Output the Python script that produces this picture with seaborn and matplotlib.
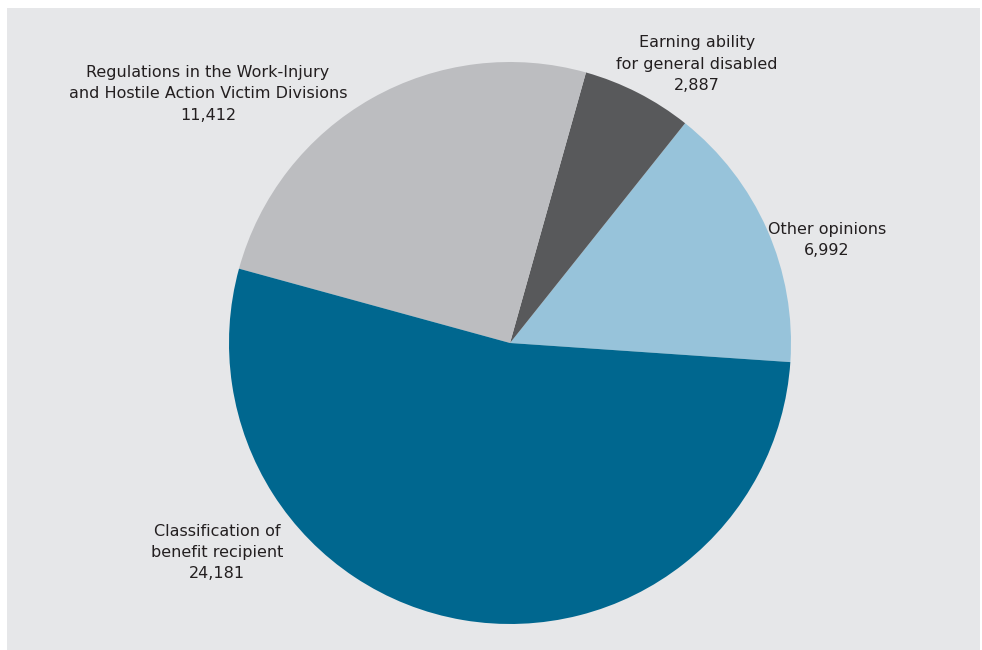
import matplotlib
matplotlib.use("Agg")
import matplotlib.pyplot as plt
import seaborn as sns
from matplotlib.patches import Rectangle

sns.set_theme(style="white")
plt.rcParams['font.family'] = ['DejaVu Sans']

categories = ["Other opinions", "Earning ability\nfor general disabled",
              "Regulations in the Work-Injury\nand Hostile Action Victim Divisions",
              "Classification of\nbenefit recipient"]
values = [6992, 2887, 11412, 24181]
colors = ["#97c3da", "#58595b", "#bcbdc0", "#00678f"]
label_pos = [(827, 240), (697, 64), (208, 94), (217, 553)]

W, H = 982, 650
fig = plt.figure(figsize=(W / 100, H / 100), dpi=100, facecolor="white")
ax = fig.add_axes([0, 0, 1, 1])
ax.set_xlim(0, W)
ax.set_ylim(0, H)
ax.set_aspect("equal")
ax.axis("off")
ax.add_patch(Rectangle((7, 0), W - 9, H - 8, facecolor="#e6e7e9", edgecolor="none", zorder=0))

ax.pie(values, colors=colors, startangle=-3.9, counterclock=True,
       center=(510, H - 343), radius=281,
       wedgeprops=dict(linewidth=0), frame=True)
ax.set_xlim(0, W)
ax.set_ylim(0, H)
ax.axis("off")

for cat, v, (x, y) in zip(categories, values, label_pos):
    ax.text(x, H - y, f"{cat}\n{v:,}", ha="center", va="center",
            fontsize=11.5, color="#231f20", linespacing=1.5)

fig.savefig("out.png", dpi=100, facecolor="white")
